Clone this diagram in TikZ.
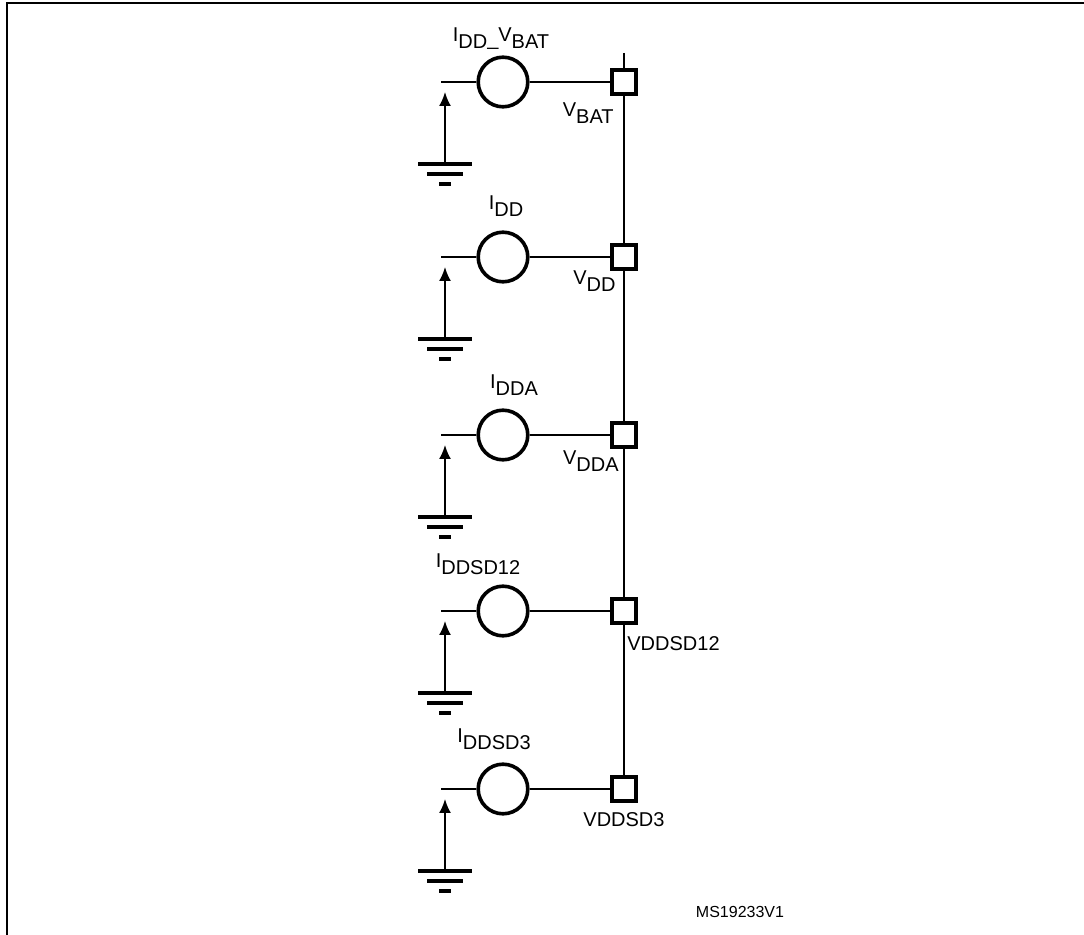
\documentclass[tikz,border=0pt]{standalone}
\usepackage{fontspec}
\setmainfont{Liberation Sans}
\usetikzlibrary{calc, arrows.meta}

\newcommand{\lowered}[1]{\raisebox{-3.5pt}{#1}}

\begin{document}
\begin{tikzpicture}[x=0.5pt, y=-0.5pt, font=\fontsize{10}{12}\selectfont,
		wire/.style={line width=0.9pt},
		source/.style={circle, draw, line width=1.8pt, minimum size=24.8pt, inner sep=0pt},
		pad/.style={rectangle, draw, fill=white, line width=2pt, minimum size=12.4pt, inner sep=0pt},
		bar/.style={line width=2.2pt},
		lbl/.style={inner sep=0pt}]
	\useasboundingbox (0,0) rectangle (1084,935);
	\draw [line width=1pt] (7,935) -- (7,3) -- (1084,3);
	
	\def\xs{503};
	\def\xp{624};
	\def\xg{445};
	
	\coordinate (railtop) at (\xp,53);
	
	\begin{scope}
		\foreach \i/\y in {1/82, 2/257, 3/435, 4/611, 5/789} {
			\coordinate (stub\i) at (441,\y);
			\coordinate (tip\i) at (\xg,\y+10);
			\coordinate (gnd\i) at (\xg,\y+82);
			\node [source] (src\i) at (\xs,\y) {};
			\node [pad] (pad\i) at (\xp,\y) {};
			
			\draw [wire] (stub\i) -- (src\i);
			\draw [wire] (src\i) -- (pad\i);
			\draw [wire, -{Latex[length=7pt, width=6pt]}] (gnd\i) -- (tip\i);
			
			\draw [bar] ($ (gnd\i) + (-27,0) $) -- ($ (gnd\i) + (27,0) $);
			\draw [bar] ($ (gnd\i) + (-18,10) $) -- ($ (gnd\i) + (18,10) $);
			\draw [bar] ($ (gnd\i) + (-6,20) $) -- ($ (gnd\i) + (6,20) $);
		}
	\end{scope}
	
	\begin{scope}
		\draw [wire] (railtop) -- (pad1.north);
		\foreach \i/\j in {1/2, 2/3, 3/4, 4/5} {
			\draw [wire] (pad\i.south) -- (pad\j.north);
		}
	\end{scope}
	
	\begin{scope}
		\node [lbl, anchor=south] (lsrc1) at ($ (src1) + (-2,-32) $) {I\lowered{DD\raisebox{1.5pt}{\_}}V\lowered{BAT}};
		\node [lbl, anchor=south] (lsrc2) at ($ (src2) + (3,-40) $) {I\lowered{DD}};
		\node [lbl, anchor=south] (lsrc3) at ($ (src3) + (11,-39) $) {I\lowered{DDA}};
		\node [lbl, anchor=south] (lsrc4) at ($ (src4) + (-25,-36) $) {I\lowered{DDSD12}};
		\node [lbl, anchor=south] (lsrc5) at ($ (src5) + (-9,-39) $) {I\lowered{DDSD3}};
		
		\node [lbl, anchor=north east] (lpad1) at ($ (pad1) + (-10,20) $) {V\lowered{BAT}};
		\node [lbl, anchor=north east] (lpad2) at ($ (pad2) + (-8,13) $) {V\lowered{DD}};
		\node [lbl, anchor=north east] (lpad3) at ($ (pad3) + (-5,15) $) {V\lowered{DDA}};
		\node [lbl, anchor=north west] (lpad4) at ($ (pad4) + (3,25) $) {VDDSD12};
		\node [lbl, anchor=north] (lpad5) at ($ (pad5) + (0,23) $) {VDDSD3};
		
		\node [lbl, font=\fontsize{8}{10}\selectfont] (figid) at (740,912) {MS19233V1};
	\end{scope}
\end{tikzpicture}
\end{document}
